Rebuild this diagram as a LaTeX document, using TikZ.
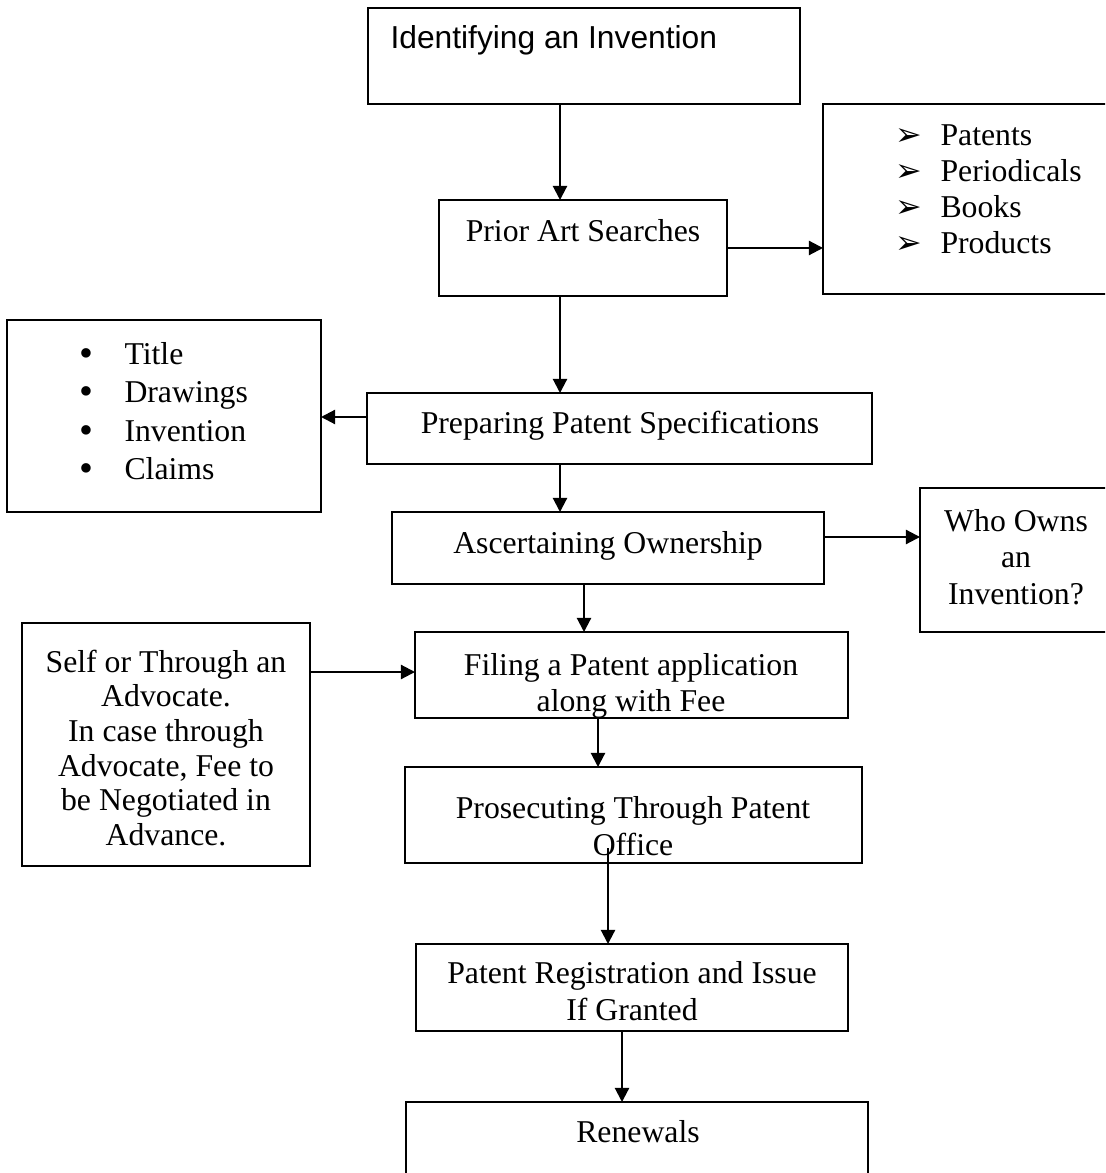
\documentclass[tikz,border=0pt]{standalone}
\usepackage{fontspec}
\setmainfont{Liberation Serif}
\newfontfamily\arialfont{Liberation Sans}
\newfontfamily\symfont{DejaVu Sans}
\usetikzlibrary{arrows.meta,fit}

% list markers
\newcommand{\listarrow}{\makebox[17pt][l]{\symfont ➢}}
\newcommand{\listdot}{\makebox[17pt][l]{\raisebox{-0.8pt}{\fontsize{15}{14.5}\selectfont •}}}

\begin{document}
\begin{tikzpicture}[x=0.378pt, y=-0.378pt,
    box/.style={draw, line width=0.8pt, inner sep=0pt, outer sep=0pt},
    txt/.style={inner sep=0pt, align=center, font=\fontsize{12}{13.8}\selectfont},
    arr/.style={-{Triangle[length=5.3pt,width=5.3pt]}, line width=0.8pt}]

    % --- 0. 画布 ---
    \useasboundingbox (0,0) rectangle (1105,1173);
    \clip (0,0) rectangle (1105,1173);

    % --- 1. 方框 ---
    \node[box, fit={(368,8) (800,104)}]    (ident)   {};
    \node[box, fit={(439,200) (727,296)}]  (prior)   {};
    \node[box, fit={(823,104) (1115,294)}] (sources) {};
    \node[box, fit={(7,320) (321,512)}]    (parts)   {};
    \node[box, fit={(367,393) (872,464)}]  (spec)    {};
    \node[box, fit={(392,512) (824,584)}]  (owner)   {};
    \node[box, fit={(920,488) (1112,632)}] (who)     {};
    \node[box, fit={(22,623) (310,866)}]   (agent)   {};
    \node[box, fit={(415,632) (848,718)}]  (filing)  {};
    \node[box, fit={(405,767) (862,863)}]  (prosec)  {};
    \node[box, fit={(416,944) (848,1031)}] (reg)     {};
    \node[box, fit={(406,1102) (868,1190)}] (renew)  {};

    % --- 2. 文字 ---
    \node[txt, anchor=base west, font=\arialfont\fontsize{12}{13.8}\selectfont]
        (identT) at (390,49) {Identifying an Invention};
    \node[txt] (priorT) at (583,231) {Prior Art Searches};
    \node[txt, anchor=west, align=left, font=\fontsize{12}{13.6}\selectfont]
        (sourcesT) at (895,189) {\listarrow Patents\\ \listarrow Periodicals\\ \listarrow Books\\ \listarrow Products};
    \node[txt, anchor=west, align=left, font=\fontsize{12}{14.5}\selectfont]
        (partsT) at (79,412) {\listdot Title\\ \listdot Drawings\\ \listdot Invention\\ \listdot Claims};
    \node[txt] (specT)   at (620,426)  {Preparing Patent Specifications};
    \node[txt] (ownerT)  at (608,546)  {Ascertaining Ownership};
    \node[txt] (whoT)    at (1016,557) {Who Owns\\ an\\ Invention?};
    \node[txt, font=\fontsize{12}{13.1}\selectfont]
        (agentT) at (166,748) {Self or Through an\\ Advocate.\\ In case through\\ Advocate, Fee to\\ be Negotiated in\\ Advance.};
    \node[txt] (filingT) at (631,686)  {Filing a Patent application\\ along with Fee};
    \node[txt] (prosecT) at (633,826)  {Prosecuting Through Patent\\ Office};
    \node[txt] (regT)    at (632,991)  {Patent Registration and Issue\\ If Granted};
    \node[txt] (renewT)  at (638,1132) {Renewals};

    % --- 3. 箭头 ---
    \draw[arr] (ident.south -| 560,0) -- (prior.north -| 560,0);
    \draw[arr] (prior.east |- 0,248) -- (sources.west |- 0,248);
    \draw[arr] (prior.south -| 560,0) -- (spec.north -| 560,0);
    \draw[arr] (spec.west |- 0,417) -- (parts.east |- 0,417);
    \draw[arr] (spec.south -| 560,0) -- (owner.north -| 560,0);
    \draw[arr] (owner.east |- 0,537) -- (who.west |- 0,537);
    \draw[arr] (owner.south -| 584,0) -- (filing.north -| 584,0);
    \draw[arr] (agent.east |- 0,672) -- (filing.west |- 0,672);
    \draw[arr] (filing.south -| 598,0) -- (prosec.north -| 598,0);
    \coordinate (officeO) at (608,848);
    \draw[arr] (officeO) -- (reg.north -| officeO);
    \draw[arr] (reg.south -| 622,0) -- (renew.north -| 622,0);

\end{tikzpicture}
\end{document}
